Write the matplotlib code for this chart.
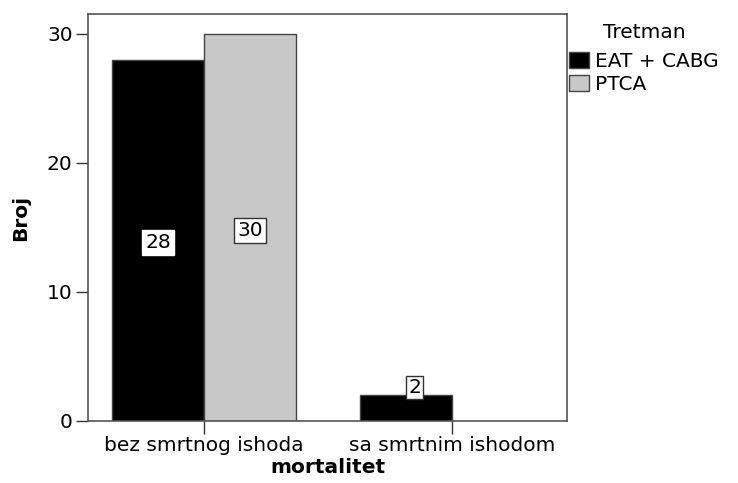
import matplotlib
matplotlib.use("Agg")
import matplotlib.pyplot as plt
import numpy as np

categories = ["bez smrtnog ishoda", "sa smrtnim ishodom"]
series_names = ["EAT + CABG", "PTCA"]
eat_cabg = [28, 2]
ptca = [30, 0]
yticks = [0, 10, 20, 30]

plt.rcParams['font.family'] = ['DejaVu Sans']
FS = 14.5

fig = plt.figure(figsize=(7.38, 4.83), dpi=100)
ax = fig.add_axes([88/738, 1-421/483, (567-88)/738, (421-14)/483])

x = np.arange(len(categories))
w = 0.371
colors = ["#000000", "#C8C8C8"]
edge = "#444444"
b1 = ax.bar(x - w/2, eat_cabg, width=w, color=colors[0], edgecolor=edge, linewidth=1, label=series_names[0])
vals2 = [v if v > 0 else np.nan for v in ptca]
b2 = ax.bar(x + w/2, vals2, width=w, color=colors[1], edgecolor=edge, linewidth=1, label=series_names[1])

for series, offs, col in ((eat_cabg, -w/2, colors[0]), (ptca, w/2, colors[1])):
    for i, v in enumerate(series):
        if v <= 0:
            continue
        if v >= 5:
            ax.text(x[i] + offs, v/2 - 0.2, str(v), ha='center', va='center', fontsize=FS,
                    bbox=dict(boxstyle='square,pad=0.15', fc='white',
                              ec=('white' if col == '#000000' else '#333333'), lw=1))
        else:
            ax.text(x[i] + offs + 0.035, v + 0.6, str(v), ha='center', va='center', fontsize=FS,
                    bbox=dict(boxstyle='square,pad=0.1', fc='white', ec='#333333', lw=1))

ax.set_xlim(-0.468, 1.464)
ax.set_ylim(0, 31.55)
ax.set_yticks(yticks)
ax.set_yticklabels([str(t) for t in yticks], fontsize=FS)
ax.set_xticks(x)
ax.set_xticklabels(categories, fontsize=FS)
ax.tick_params(axis='both', length=9, width=1, color='#333333', pad=2)
for s in ax.spines.values():
    s.set_color('#555555')
    s.set_linewidth(1.2)

ax.set_ylabel("Broj", fontsize=FS, fontweight='bold', labelpad=12)
ax.set_xlabel("mortalitet", fontsize=FS, fontweight='bold', labelpad=2)

leg = fig.legend(handles=[b1, b2], title="Tretman", loc='upper left',
                 bbox_to_anchor=(569/738, 1-23/483),
                 frameon=False, fontsize=FS, title_fontsize=FS,
                 handlelength=1.0, handleheight=0.85, handletextpad=0.3,
                 labelspacing=0.2, borderaxespad=0.0, borderpad=0.0)
leg._legend_box.sep = 7

fig.savefig("out.png", dpi=100)
